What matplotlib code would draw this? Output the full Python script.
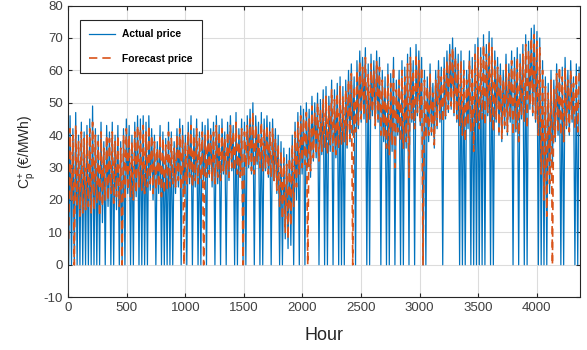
import numpy as np
import matplotlib.pyplot as plt

# daily values (26 weeks x 7 days), hourly axis
actual_high = [
    46, 42, 47, 40, 44, 41, 43,   45, 49, 42, 40, 44, 38, 43,
    41, 44, 40, 43, 38, 42, 45,   43, 40, 44, 46, 45, 46, 44,
    46, 42, 40, 38, 43, 41, 39,   44, 41, 38, 42, 45, 43, 40,
    44, 46, 42, 45, 41, 44, 43,   45, 42, 44, 46, 43, 45, 41,
    44, 46, 43, 47, 42, 45, 44,   46, 48, 50, 46, 44, 47, 45,
    46, 44, 45, 42, 40, 38, 36,   34, 36, 40, 44, 47, 49, 48,
    50, 48, 52, 50, 53, 51, 54,   55, 52, 57, 54, 56, 58, 55,
    57, 60, 62, 58, 63, 66, 64,   67, 62, 65, 63, 66, 64, 60,
    58, 62, 59, 64, 57, 60, 63,   61, 65, 67, 63, 68, 66, 64,
    60, 58, 62, 56, 60, 63, 61,   64, 66, 68, 70, 67, 65, 66,
    63, 60, 66, 64, 68, 70, 67,   71, 68, 72, 70, 66, 64, 62,
    60, 65, 62, 66, 64, 67, 65,   68, 71, 69, 73, 74, 72, 70,
    63, 58, 56, 60, 57, 62, 59,   61, 64, 60, 63, 58, 62, 61,
]
actual_low = [
    0, 0, 0, 0, 0, 0, 0,          0, 0, 0, 0, 0, 13, 0,
    18, 0, 0, 17, 0, 0, 0,        22, 0, 0, 21, 0, 0, 0,
    0, 23, 20, 0, 22, 0, 0,       0, 0, 0, 22, 24, 0, 21,
    0, 25, 0, 24, 0, 0, 26,       0, 27, 24, 0, 25, 0, 28,
    0, 26, 29, 0, 0, 27, 0,       0, 30, 28, 0, 31, 0, 0,
    29, 27, 0, 26, 22, 0, 0,      8, 5, 6, 0, 20, 0, 28,
    0, 30, 27, 32, 33, 0, 34,     0, 0, 35, 0, 33, 0, 0,
    0, 36, 38, 40, 0, 42, 44,     45, 0, 0, 46, 42, 44, 0,
    38, 0, 0, 35, 0, 40, 0,       0, 36, 0, 44, 0, 46, 43,
    0, 0, 38, 40, 36, 42, 44,     0, 45, 47, 48, 46, 44, 0,
    0, 0, 42, 0, 0, 0, 0,         0, 0, 46, 0, 0, 44, 40,
    38, 42, 40, 44, 0, 41, 0,     45, 0, 0, 48, 46, 44, 0,
    0, 0, 0, 22, 30, 38, 40,      0, 0, 42, 40, 44, 0, 0,
]
forecast_high = [
    42, 40, 43, 38, 41, 39, 40,   42, 44, 40, 38, 41, 36, 40,
    39, 41, 38, 40, 36, 40, 42,   40, 38, 41, 43, 42, 43, 41,
    43, 40, 38, 36, 40, 39, 37,   41, 39, 36, 40, 42, 40, 38,
    41, 43, 40, 42, 39, 41, 40,   42, 40, 41, 43, 41, 42, 39,
    41, 43, 41, 44, 40, 42, 41,   43, 45, 47, 43, 41, 44, 42,
    43, 41, 42, 39, 37, 35, 33,   31, 33, 37, 41, 44, 46, 45,
    47, 45, 49, 47, 50, 48, 51,   52, 49, 54, 51, 53, 55, 52,
    54, 57, 59, 55, 60, 63, 61,   64, 59, 62, 60, 63, 61, 57,
    55, 59, 56, 61, 54, 57, 60,   58, 62, 64, 60, 65, 63, 61,
    57, 55, 59, 53, 57, 60, 58,   61, 63, 65, 67, 64, 62, 63,
    60, 57, 63, 61, 65, 67, 64,   68, 65, 69, 67, 63, 61, 59,
    57, 62, 59, 63, 61, 64, 62,   65, 68, 66, 70, 71, 69, 67,
    60, 55, 53, 57, 54, 59, 61,   58, 61, 57, 60, 56, 59, 60,
]
forecast_low = [
    8, 20, 0, 18, 15, 16, 17,     18, 16, 17, 19, 15, 18, 20,
    20, 22, 19, 21, 18, 0, 20,    23, 21, 20, 22, 24, 23, 22,
    24, 25, 22, 23, 24, 21, 22,   23, 24, 25, 24, 26, 23, 0,
    25, 27, 24, 26, 25, 26, 0,    27, 28, 26, 25, 27, 26, 29,
    28, 27, 30, 29, 28, 27, 0,    30, 31, 29, 28, 32, 30, 29,
    30, 28, 27, 26, 23, 18, 14,   10, 8, 12, 18, 24, 28, 30,
    31, 0, 29, 33, 34, 32, 35,    36, 34, 37, 35, 34, 36, 37,
    38, 37, 39, 0, 41, 43, 45,    46, 44, 45, 47, 43, 45, 40,
    39, 36, 34, 37, 30, 41, 38,   36, 38, 27, 45, 42, 47, 44,
    0, 39, 40, 41, 37, 43, 45,    44, 46, 48, 49, 47, 45, 43,
    40, 38, 43, 41, 35, 44, 42,   45, 43, 47, 44, 41, 45, 41,
    39, 43, 41, 45, 40, 42, 38,   46, 44, 42, 49, 47, 45, 40,
    28, 20, 15, 25, 0, 39, 41,    40, 38, 43, 41, 45, 42, 41,
]

plt.rcParams['font.family'] = ['Liberation Sans', 'DejaVu Sans']
plt.rcParams['mathtext.fontset'] = 'custom'
plt.rcParams['mathtext.rm'] = 'Liberation Sans'
plt.rcParams['mathtext.it'] = 'Liberation Sans:italic'
plt.rcParams['axes.unicode_minus'] = False

# night low and afternoon high for each day
days = np.arange(len(actual_high))
hours = np.column_stack([days * 24 + 5, days * 24 + 17]).ravel()
actual = np.column_stack([actual_low, actual_high]).ravel()
forecast = np.column_stack([forecast_low, forecast_high]).ravel()

fig = plt.figure(figsize=(5.87, 3.5), dpi=100)
ax = fig.add_axes([0.116, 0.151, 0.872, 0.833])

ax.plot(hours, actual, color='#0072BD', lw=0.9, label='Actual price')
ax.plot(hours, forecast, color='#D95319', lw=1.2, ls=(0, (5, 3)), label='Forecast price')

ax.set_xlim(0, 4368)
ax.set_ylim(-10, 80)
ax.set_xticks(np.arange(0, 4001, 500))
ax.set_yticks(np.arange(-10, 81, 10))
ax.grid(True, color='#dcdcdc', lw=0.8)
ax.set_axisbelow(True)
ax.tick_params(direction='in', top=True, right=True, labelsize=9.5, colors='#262626',
               labelcolor='#404040', length=3)
for s in ax.spines.values():
    s.set_color('#262626')
    s.set_linewidth(0.8)

ax.set_xlabel('Hour', fontsize=13, color='#262626', labelpad=9)
ax.set_ylabel('C$_{\\rm p}^{+}$ (€/MWh)', fontsize=10, color='#262626', labelpad=4)

leg = ax.legend(loc='upper left', bbox_to_anchor=(0.023, 0.95), borderaxespad=0,
                fancybox=False, edgecolor='#262626', framealpha=1, fontsize=7.4,
                handlelength=2.5, handletextpad=0.7, labelspacing=1.4, borderpad=0.9)
leg.get_frame().set_linewidth(0.8)
for t in leg.get_texts():
    t.set_fontweight('bold')

fig.savefig('out.png', dpi=100)
